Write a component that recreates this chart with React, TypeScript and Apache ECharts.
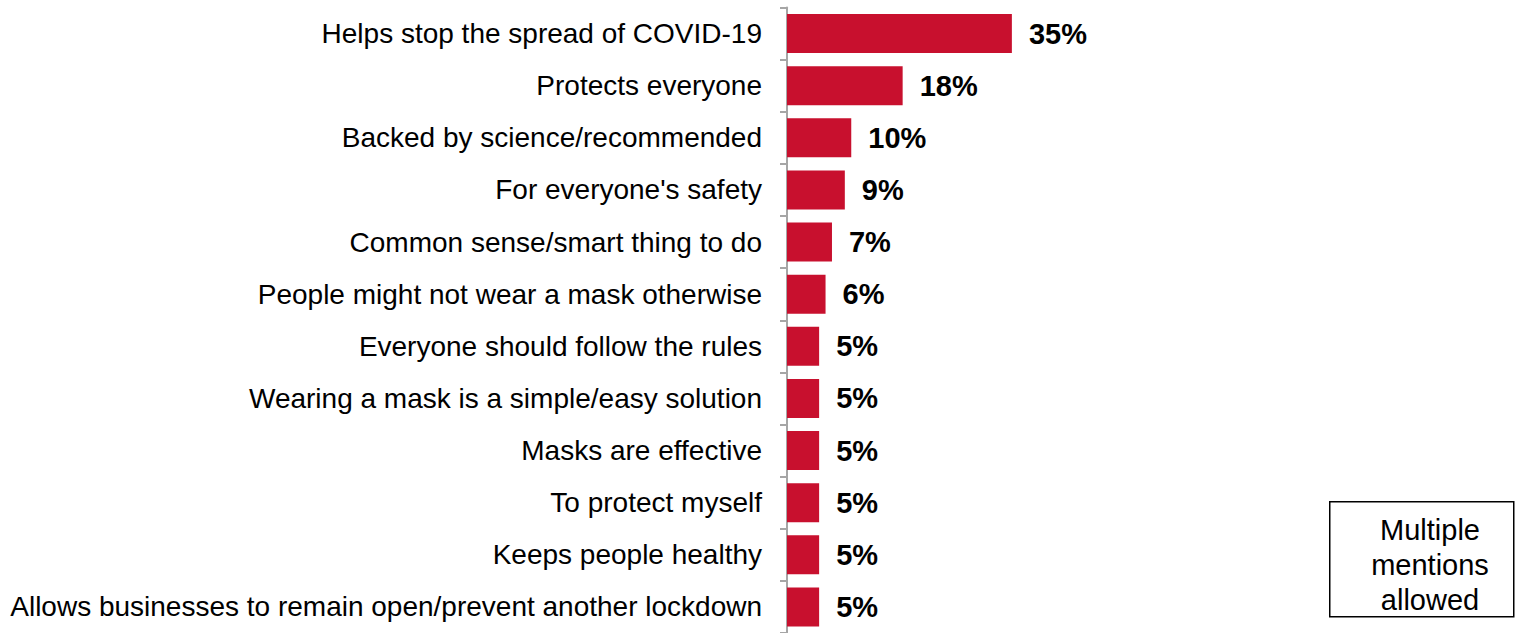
import React, { useEffect, useRef } from "react";
import * as echarts from "echarts";

const categories = [
  "Helps stop the spread of COVID-19",
  "Protects everyone",
  "Backed by science/recommended",
  "For everyone's safety",
  "Common sense/smart thing to do",
  "People might not wear a mask otherwise",
  "Everyone should follow the rules",
  "Wearing a mask is a simple/easy solution",
  "Masks are effective",
  "To protect myself",
  "Keeps people healthy",
  "Allows businesses to remain open/prevent another lockdown",
];
const values = [35, 18, 10, 9, 7, 6, 5, 5, 5, 5, 5, 5];
const noteText = "Multiple\nmentions\nallowed";

const FONT = '"Liberation Sans", Arial, Helvetica, sans-serif';

export default function App() {
  const ref = useRef<HTMLDivElement>(null);
  useEffect(() => {
    if (!ref.current) return;
    const chart = echarts.init(ref.current, undefined, { renderer: "svg" });
    chart.setOption({
      animation: false,
      backgroundColor: "#ffffff",
      grid: { left: 787, top: 7.5, width: 257, height: 627, containLabel: false },
      xAxis: {
        type: "value",
        min: 0,
        max: 40,
        show: false,
        splitLine: { show: false },
      },
      yAxis: {
        type: "category",
        inverse: true,
        data: categories,
        axisLine: { show: true, lineStyle: { color: "#a6a6a6", width: 2 } },
        axisTick: { show: true, length: 7, lineStyle: { color: "#a6a6a6", width: 2 } },
        axisLabel: {
          margin: 25,
          color: "#000000",
          fontSize: 28,
          fontFamily: FONT,
        },
      },
      series: [
        {
          type: "bar",
          data: values,
          barCategoryGap: "25%",
          itemStyle: { color: "#C8102E" },
          label: {
            show: true,
            position: "right",
            distance: 17,
            formatter: (p: any) => `${p.value}%`,
            color: "#000000",
            fontWeight: "bold",
            fontSize: 29,
            fontFamily: FONT,
          },
        },
      ],
      graphic: [
        {
          type: "rect",
          left: 1329,
          top: 501,
          shape: { width: 184, height: 115 },
          style: { fill: "#ffffff", stroke: "#000000", lineWidth: 1.5 },
        },
        {
          type: "text",
          x: 1430,
          y: 565,
          style: {
            text: noteText,
            fill: "#000000",
            fontSize: 29,
            fontFamily: FONT,
            align: "center",
            verticalAlign: "middle",
            lineHeight: 35,
          },
        },
      ],
    });
    return () => chart.dispose();
  }, []);
  return (
    <div
      ref={ref}
      style={{ position: "absolute", left: 0, top: 0, width: 1515, height: 633 }}
    />
  );
}
